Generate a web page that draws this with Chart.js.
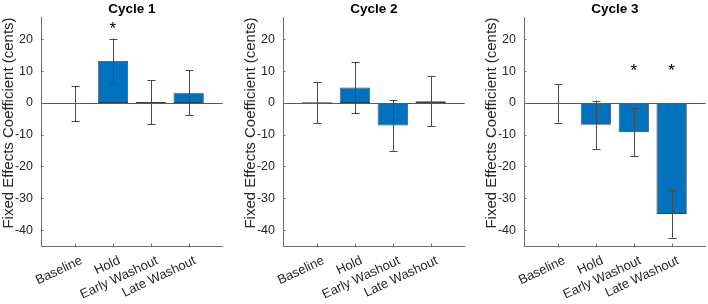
<!DOCTYPE html>
<html>
<head>
<meta charset="utf-8">
<script src="https://cdn.jsdelivr.net/npm/chart.js@4/dist/chart.umd.min.js"></script>
<style>
  html, body { margin: 0; padding: 0; background: #fff; overflow: hidden; }
  body { width: 708px; height: 304px; position: relative; }
  .panel { position: absolute; top: 0; width: 225px; height: 304px; }
</style>
</head>
<body>
<div class="panel" style="left:0px"><canvas id="c1"></canvas></div>
<div class="panel" style="left:242px"><canvas id="c2"></canvas></div>
<div class="panel" style="left:483px"><canvas id="c3"></canvas></div>
<script>
// ---- data ----
const categories = ["Baseline", "Hold", "Early Washout", "Late Washout"];
const titles = ["Cycle 1", "Cycle 2", "Cycle 3"];
const yTicks = [-40, -30, -20, -10, 0, 10, 20];

const cycle1 = [-0.3, 13.2, 0.3, 3.2];
const cycle1Low = [-5.7, 6.2, -6.7, -3.8];
const cycle1High = [5.3, 20.2, 7.2, 10.3];
const cycle1Stars = [null, 24, null, null];

const cycle2 = [0.2, 4.8, -7.1, 0.5];
const cycle2Low = [-6.3, -3.2, -15.1, -7.4];
const cycle2High = [6.6, 12.7, 0.9, 8.4];
const cycle2Stars = [null, null, null, null];

const cycle3 = [-0.2, -6.9, -9.2, -34.9];
const cycle3Low = [-6.2, -14.6, -16.8, -42.4];
const cycle3High = [5.9, 0.7, -1.6, -27.4];
const cycle3Stars = [null, null, 11, 11];

const panels = [
  { id: "c1", values: cycle1, low: cycle1Low, high: cycle1High, stars: cycle1Stars, title: titles[0] },
  { id: "c2", values: cycle2, low: cycle2Low, high: cycle2High, stars: cycle2Stars, title: titles[1] },
  { id: "c3", values: cycle3, low: cycle3Low, high: cycle3High, stars: cycle3Stars, title: titles[2] }
];

const FONT = "'Liberation Sans', Arial, Helvetica, sans-serif";
const TEXT = "#262626";
const AXIS = "#6e6e6e";

const decorPlugin = {
  id: "decor",
  afterDatasetsDraw(chart, args, opts) {
    const ctx = chart.ctx;
    const xs = chart.scales.x, ys = chart.scales.y;
    const a = chart.chartArea;
    ctx.save();
    // zero baseline
    ctx.strokeStyle = "#5a5a5a";
    ctx.lineWidth = 1;
    const y0 = Math.round(ys.getPixelForValue(0)) + 0.5;
    ctx.beginPath(); ctx.moveTo(a.left, y0); ctx.lineTo(a.right, y0); ctx.stroke();
    // error bars
    ctx.strokeStyle = "#4a4a4a";
    opts.low.forEach((lo, i) => {
      const x = Math.round(xs.getPixelForValue(i + 1)) + 0.5;
      const yl = ys.getPixelForValue(lo), yh = ys.getPixelForValue(opts.high[i]);
      ctx.beginPath();
      ctx.moveTo(x, yl); ctx.lineTo(x, yh);
      ctx.moveTo(x - 4, Math.round(yl) + 0.5); ctx.lineTo(x + 4, Math.round(yl) + 0.5);
      ctx.moveTo(x - 4, Math.round(yh) + 0.5); ctx.lineTo(x + 4, Math.round(yh) + 0.5);
      ctx.stroke();
    });
    // significance stars
    ctx.fillStyle = "#000";
    ctx.font = "17px " + FONT;
    ctx.textAlign = "center";
    ctx.textBaseline = "middle";
    opts.stars.forEach((s, i) => {
      if (s === null) return;
      ctx.fillText("*", xs.getPixelForValue(i + 1), ys.getPixelForValue(s) + 3);
    });
    // inward ticks
    ctx.strokeStyle = AXIS;
    ctx.beginPath();
    ys.ticks.forEach(t => {
      const y = Math.round(ys.getPixelForValue(t.value)) + 0.5;
      ctx.moveTo(a.left, y); ctx.lineTo(a.left + 2.5, y);
    });
    xs.ticks.forEach(t => {
      const x = Math.round(xs.getPixelForValue(t.value)) + 0.5;
      ctx.moveTo(x, a.bottom); ctx.lineTo(x, a.bottom - 2.5);
    });
    ctx.stroke();
    // title
    ctx.fillStyle = "#000";
    ctx.font = "bold 13.5px " + FONT;
    ctx.textAlign = "center";
    ctx.textBaseline = "middle";
    ctx.fillText(opts.title, (a.left + a.right) / 2, 9);
    // y label
    ctx.fillStyle = TEXT;
    ctx.font = "15px " + FONT;
    ctx.translate(8.5, 123);
    ctx.rotate(-Math.PI / 2);
    ctx.fillText("Fixed Effects Coefficient (cents)", 0, 0);
    ctx.restore();
  }
};

panels.forEach(p => {
  new Chart(document.getElementById(p.id), {
    type: "bar",
    data: {
      datasets: [{
        data: p.values.map((v, i) => ({ x: i + 1, y: v })),
        backgroundColor: "#0072BD",
        borderColor: "rgba(20,30,45,0.85)",
        borderWidth: 0.8,
        barPercentage: 0.8,
        categoryPercentage: 1.0,
        borderSkipped: false
      }]
    },
    options: {
      responsive: true,
      maintainAspectRatio: false,
      animation: false,
      devicePixelRatio: 1,
      layout: { padding: { top: 17, right: 2.3, left: 0, bottom: 0 } },
      plugins: {
        legend: { display: false },
        tooltip: { enabled: false },
        decor: { low: p.low, high: p.high, stars: p.stars, title: p.title }
      },
      scales: {
        x: {
          type: "linear",
          offset: false,
          min: 0.1, max: 4.9,
          grid: { display: false, drawTicks: false },
          border: { display: true, color: AXIS, width: 1 },
          afterBuildTicks: s => { s.ticks = categories.map((c, i) => ({ value: i + 1 })); },
          afterFit: s => { s.height = 58; },
          ticks: {
            autoSkip: false,
            minRotation: 25, maxRotation: 25,
            padding: 7,
            labelOffset: 6.5,
            color: TEXT,
            font: { family: FONT, size: 13 },
            callback: v => categories[v - 1] || ""
          }
        },
        y: {
          min: -45, max: 27,
          grid: { display: false, drawTicks: false },
          border: { display: true, color: AXIS, width: 1 },
          afterBuildTicks: s => { s.ticks = yTicks.map(v => ({ value: v })); },
          afterFit: s => { s.width = 41; },
          ticks: {
            padding: 8,
            color: TEXT,
            font: { family: FONT, size: 12.5 }
          }
        }
      }
    },
    plugins: [decorPlugin]
  });
});
</script>
</body>
</html>
